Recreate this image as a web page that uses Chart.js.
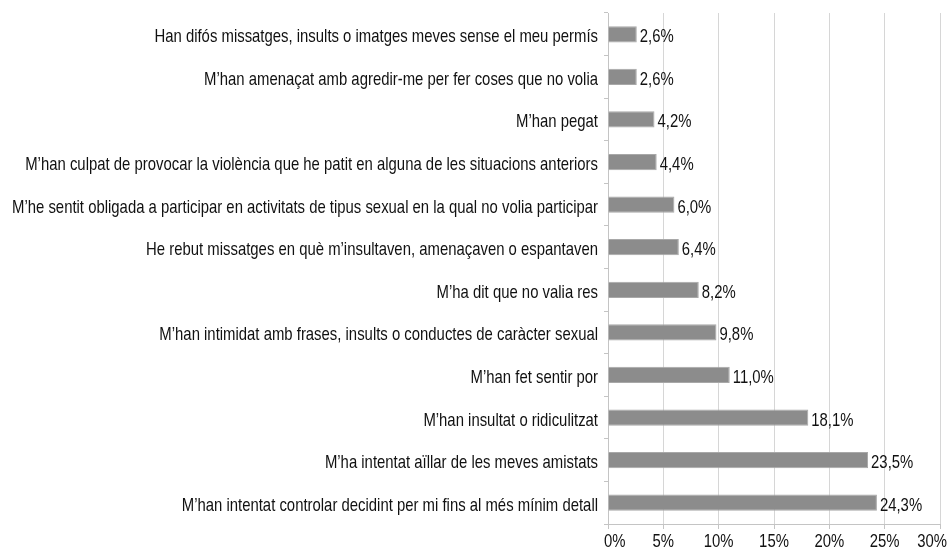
<!DOCTYPE html>
<html lang="ca">
<head>
    <meta charset="UTF-8">
    <title>Situacions viscudes</title>
    <script src="https://cdn.jsdelivr.net/npm/chart.js"></script>
    <style>
        html, body { margin: 0; padding: 0; background: #ffffff; }
        .wrap { width: 949px; height: 549px; }
    </style>
</head>
<body>
    <div class="wrap"><canvas id="chart"></canvas></div>

    <script>
        const categories = [
            "Han difós missatges, insults o imatges meves sense el meu permís",
            "M’han amenaçat amb agredir-me per fer coses que no volia",
            "M’han pegat",
            "M’han culpat de provocar la violència que he patit en alguna de les situacions anteriors",
            "M’he sentit obligada a participar en activitats de tipus sexual en la qual no volia participar",
            "He rebut missatges en què m’insultaven, amenaçaven o espantaven",
            "M’ha dit que no valia res",
            "M’han intimidat amb frases, insults o conductes de caràcter sexual",
            "M’han fet sentir por",
            "M’han insultat o ridiculitzat",
            "M’ha intentat aïllar de les meves amistats",
            "M’han intentat controlar decidint per mi fins al més mínim detall"
        ];
        const values = [2.6, 2.6, 4.2, 4.4, 6.0, 6.4, 8.2, 9.8, 11.0, 18.1, 23.5, 24.3];
        const xTicks = [0, 5, 10, 15, 20, 25, 30];

        const FONT = "19px 'Liberation Sans', Arial, sans-serif";
        const fmt = v => v.toFixed(1).replace(".", ",") + "%";

        // text estret (tipus Helvetica Condensed) dibuixat amb escala horitzontal
        function narrowText(ctx, text, x, y, align, sx) {
            ctx.save();
            ctx.translate(x, y);
            ctx.scale(sx, 1);
            ctx.textAlign = align;
            ctx.textBaseline = "alphabetic";
            ctx.fillText(text, 0, 0);
            ctx.restore();
        }

        const textPlugin = {
            id: "textPlugin",
            afterDraw(chart) {
                const ctx = chart.ctx;
                ctx.save();
                ctx.font = FONT;
                ctx.fillStyle = "#111111";
                const yScale = chart.scales.y;
                const xScale = chart.scales.x;
                // factor d'estrenyiment perquè l'etiqueta més llarga càpiga a l'esquerra
                const room = yScale.right - 10 - 12;
                const widest = Math.max(...categories.map(c => ctx.measureText(c).width));
                const sx = Math.min(451 / ctx.measureText(categories[categories.length - 1]).width, room / widest);
                const meta = chart.getDatasetMeta(0);
                meta.data.forEach((bar, i) => {
                    narrowText(ctx, categories[i], yScale.right - 10, bar.y + 8, "right", sx);
                    narrowText(ctx, fmt(values[i]), bar.x + 3, bar.y + 8, "left", sx);
                });
                // etiquetes de l'eix x, sense sortir del llenç
                xTicks.forEach(v => {
                    const label = v + "%";
                    const half = ctx.measureText(label).width * sx / 2;
                    let cx = xScale.getPixelForValue(v);
                    cx = Math.max(cx, xScale.left - 4 + half);
                    cx = Math.min(cx, chart.width - 2 - half);
                    narrowText(ctx, label, cx, xScale.top + 23, "center", sx);
                });
                ctx.restore();
            }
        };

        new Chart(document.getElementById("chart"), {
            type: "bar",
            data: {
                labels: categories,
                datasets: [{
                    data: values,
                    backgroundColor: "#8c8c8c",
                    borderColor: "#a8a8a8",
                    borderWidth: 1,
                    categoryPercentage: 1,
                    barPercentage: 0.38
                }]
            },
            options: {
                indexAxis: "y",
                responsive: true,
                maintainAspectRatio: false,
                animation: false,
                layout: { padding: { top: 13, right: 9, left: 0, bottom: 0 } },
                plugins: {
                    legend: { display: false },
                    tooltip: { enabled: false }
                },
                scales: {
                    x: {
                        min: 0,
                        max: 30,
                        afterBuildTicks: s => { s.ticks = xTicks.map(v => ({ value: v })); },
                        afterFit: s => { s.height = 25; },
                        grid: { color: "#d6d6d6", tickLength: 5, tickColor: "#c4c4c4" },
                        border: { color: "#c4c4c4" },
                        ticks: { display: false }
                    },
                    y: {
                        afterFit: s => { s.width = 608; },
                        grid: { offset: true, drawOnChartArea: false, tickLength: 4, tickColor: "#c4c4c4" },
                        border: { color: "#c4c4c4" },
                        ticks: { display: false, autoSkip: false }
                    }
                }
            },
            plugins: [textPlugin]
        });
    </script>
</body>
</html>
